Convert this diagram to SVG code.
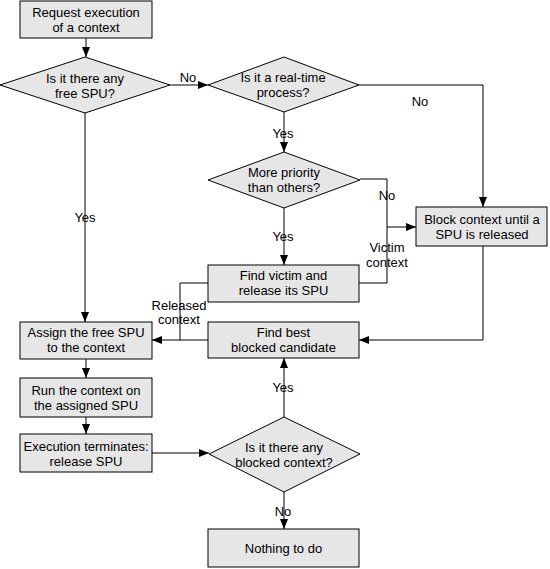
<svg xmlns="http://www.w3.org/2000/svg" width="550" height="569" viewBox="0 0 550 569">
<style>
.n{fill:#e6e6e6;stroke:#000;stroke-width:1}
text{font-family:"Liberation Sans",Arial,sans-serif;font-size:13px;fill:#000;text-anchor:middle}
.c{fill:none;stroke:#000;stroke-width:1}
.a{marker-end:url(#ah)}
</style>
<defs>
<marker id="ah" markerUnits="userSpaceOnUse" markerWidth="10" markerHeight="8" refX="10" refY="4" orient="auto">
<path d="M0,0 L10,4 L0,8 z" fill="#000"/>
</marker>
</defs>
<rect width="550" height="569" fill="#fff"/>
<g id="connectors">
<text x="188" y="81.5">No</text>
<text x="420" y="106">No</text>
<text x="283" y="137.5">Yes</text>
<text x="387" y="199.5">No</text>
<text x="283" y="240.5">Yes</text>
<text x="387" y="251.5">Victim</text>
<text x="387" y="266.5">context</text>
<text x="179" y="309.5">Released</text>
<text x="179" y="323.5">context</text>
<text x="85" y="221.5">Yes</text>
<text x="283" y="391.5">Yes</text>
<text x="283" y="515.5">No</text>
<path class="c a" d="M86,38 V57"/>
<path class="c a" d="M170,85 H208"/>
<path class="c a" d="M359,85 H483 V207"/>
<path class="c a" d="M284,112 V152"/>
<path class="c a" d="M360,179 H387 V227 H416"/>
<path class="c" d="M359,283 H387 V227"/>
<path class="c a" d="M284,208 V265"/>
<path class="c a" d="M85,113 V322"/>
<path class="c" d="M208,283 H180 V340"/>
<path class="c a" d="M208,340 H152"/>
<path class="c a" d="M483,246 V340 H359"/>
<path class="c a" d="M86,359 V378"/>
<path class="c a" d="M86,417 V434"/>
<path class="c a" d="M152,453 H209"/>
<path class="c a" d="M284,417 V358"/>
<path class="c a" d="M284,492 V529"/>
</g>
<g id="request">
<rect class="n" x="20" y="1" width="132" height="37"/>
<text x="86" y="16.5">Request execution</text>
<text x="86" y="31.5">of a context</text>
</g>
<g id="free-spu">
<polygon class="n" points="0,85 85,57 170,85 85,113"/>
<text x="85" y="82.5">Is it there any</text>
<text x="85" y="97.5">free SPU?</text>
</g>
<g id="real-time">
<polygon class="n" points="208,85 284,57 359,85 284,112"/>
<text x="283" y="81.5">Is it a real-time</text>
<text x="283" y="97">process?</text>
</g>
<g id="priority">
<polygon class="n" points="208,180 284,152 360,180 284,208"/>
<text x="284" y="177">More priority</text>
<text x="284" y="191.5">than others?</text>
</g>
<g id="block">
<rect class="n" x="416" y="207" width="131" height="39"/>
<text x="482" y="224">Block context until a</text>
<text x="482" y="239">SPU is released</text>
</g>
<g id="victim">
<rect class="n" x="208" y="265" width="151" height="37"/>
<text x="283.5" y="279.5">Find victim and</text>
<text x="283.5" y="294.5">release its SPU</text>
</g>
<g id="best">
<rect class="n" x="208" y="322" width="151" height="36"/>
<text x="283.5" y="336.5">Find best</text>
<text x="283.5" y="351.5">blocked candidate</text>
</g>
<g id="assign">
<rect class="n" x="20" y="322" width="132" height="37"/>
<text x="86" y="336.5">Assign the free SPU</text>
<text x="86" y="351.5">to the context</text>
</g>
<g id="run">
<rect class="n" x="20" y="378" width="132" height="39"/>
<text x="86" y="394.5">Run the context on</text>
<text x="86" y="409.5">the assigned SPU</text>
</g>
<g id="terminate">
<rect class="n" x="20" y="434" width="132" height="38"/>
<text x="86" y="450.5">Execution terminates:</text>
<text x="86" y="465.5">release SPU</text>
</g>
<g id="any-blocked">
<polygon class="n" points="209,454 284,417 360,454 284,492"/>
<text x="284" y="451.5">Is it there any</text>
<text x="284" y="466.5">blocked context?</text>
</g>
<g id="nothing">
<rect class="n" x="208" y="529" width="151" height="38"/>
<text x="283.5" y="552.5">Nothing to do</text>
</g>
</svg>
